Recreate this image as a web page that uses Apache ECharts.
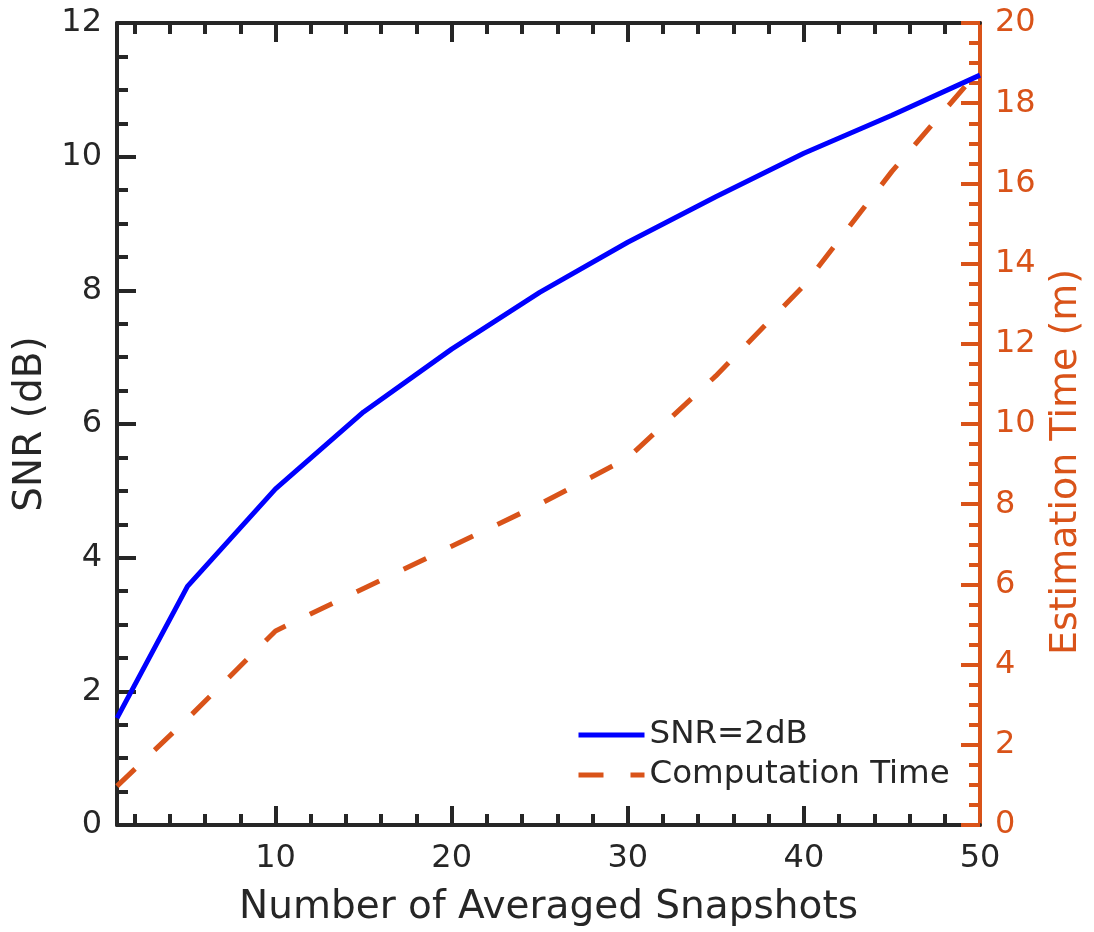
<!DOCTYPE html>
<html><head><meta charset="utf-8">
<script src="https://cdn.jsdelivr.net/npm/echarts@6/dist/echarts.min.js"></script>
<style>html,body{margin:0;padding:0;background:#fff}#c{width:1094px;height:932px}</style>
</head><body><div id="c"></div>
<script>
// ---- data ----
const snapshots = [1, 5, 10, 15, 20, 25, 30, 35, 40, 45, 50];
const snrValues = [1.6, 3.57, 5.03, 6.18, 7.12, 7.97, 8.72, 9.4, 10.05, 10.62, 11.22];
const timeValues = [0.97, 2.65, 4.84, 5.9, 6.95, 8.0, 9.15, 11.2, 13.45, 16.3, 18.85];
const xLabelValues = [10, 20, 30, 40, 50];
const xMajorTicks = [10, 20, 30, 40];
const xMinorTicks = [2, 4, 6, 8, 12, 14, 16, 18, 22, 24, 26, 28, 32, 34, 36, 38, 42, 44, 46, 48];
const seriesNames = ['SNR=2dB', 'Computation Time'];
const xName = 'Number of Averaged Snapshots';
const yLeftName = 'SNR (dB)';
const yRightName = 'Estimation Time (m)';

// ---- styles ----
const FONT = 'DejaVu Sans';
const DARK = '#262626';
const ORANGE = '#D95319';
const BLUE = '#0000FF';
const DASH = [25, 27];

function xAxisDef(pos, tickVals, len, showLine, labels) {
  return {
    type: 'value', position: pos, min: 1, max: 50,
    axisLine: { show: showLine, onZero: false, lineStyle: { color: DARK, width: 4 } },
    axisTick: { show: true, inside: true, length: len, customValues: tickVals, lineStyle: { color: DARK, width: 4 } },
    axisLabel: labels ? { show: true, customValues: xLabelValues, margin: 18, fontSize: 32, color: DARK, fontFamily: FONT } : { show: false },
    splitLine: { show: false }
  };
}

const xBottom = xAxisDef('bottom', xMajorTicks, 19, true, true);
xBottom.name = xName;
xBottom.nameLocation = 'middle';
xBottom.nameGap = 63;
xBottom.nameTextStyle = { fontSize: 39, color: DARK, fontFamily: FONT };

const chart = echarts.init(document.getElementById('c'), null, { renderer: 'canvas' });
chart.setOption({
  animation: false,
  backgroundColor: '#fff',
  grid: { left: 117, top: 23, width: 863, height: 803, containLabel: false },
  legend: {
    left: 576, top: 718, orient: 'vertical', padding: 0,
    itemWidth: 66, itemHeight: 20, itemGap: 6,
    textStyle: { fontSize: 32.5, color: DARK, fontFamily: FONT, lineHeight: 34 },
    data: [
      { name: seriesNames[0], itemStyle: { opacity: 0 }, lineStyle: { color: BLUE, width: 5, type: 'solid' } },
      { name: seriesNames[1], itemStyle: { opacity: 0 }, lineStyle: { color: ORANGE, width: 5, type: DASH } }
    ]
  },
  xAxis: [
    xBottom,
    xAxisDef('bottom', xMinorTicks, 11, false, false),
    xAxisDef('top', xMajorTicks, 19, true, false),
    xAxisDef('top', xMinorTicks, 11, false, false)
  ],
  yAxis: [
    {
      type: 'value', position: 'left', min: 0, max: 12, interval: 2,
      name: yLeftName, nameLocation: 'middle', nameRotate: 90, nameGap: 65,
      nameTextStyle: { fontSize: 39, color: DARK, fontFamily: FONT },
      axisLine: { show: true, onZero: false, lineStyle: { color: DARK, width: 4 } },
      axisTick: { show: true, inside: true, length: 19, lineStyle: { color: DARK, width: 4 } },
      minorTick: { show: true, splitNumber: 4, length: 11, lineStyle: { color: DARK, width: 4 } },
      axisLabel: { margin: 15, fontSize: 32, color: DARK, fontFamily: FONT },
      splitLine: { show: false }, minorSplitLine: { show: false }
    },
    {
      type: 'value', position: 'right', min: 0, max: 20, interval: 2,
      name: yRightName, nameLocation: 'middle', nameRotate: 90, nameGap: 67,
      nameTextStyle: { fontSize: 38, color: ORANGE, fontFamily: FONT, padding: [0, 76, 0, 0] },
      axisLine: { show: true, onZero: false, lineStyle: { color: ORANGE, width: 4 } },
      axisTick: { show: true, inside: true, length: 19, lineStyle: { color: ORANGE, width: 4 } },
      minorTick: { show: true, splitNumber: 4, length: 11, lineStyle: { color: ORANGE, width: 4 } },
      axisLabel: { margin: 15, fontSize: 32, color: ORANGE, fontFamily: FONT },
      splitLine: { show: false }, minorSplitLine: { show: false }
    }
  ],
  series: [
    {
      name: seriesNames[0], type: 'line', xAxisIndex: 0, yAxisIndex: 0,
      data: snapshots.map((x, i) => [x, snrValues[i]]),
      symbol: 'none', lineStyle: { color: BLUE, width: 5 }, itemStyle: { color: BLUE }
    },
    {
      name: seriesNames[1], type: 'line', xAxisIndex: 0, yAxisIndex: 1,
      data: snapshots.map((x, i) => [x, timeValues[i]]),
      symbol: 'none', lineStyle: { color: ORANGE, width: 5, type: DASH }, itemStyle: { color: ORANGE }
    }
  ]
});
</script>
</body></html>
